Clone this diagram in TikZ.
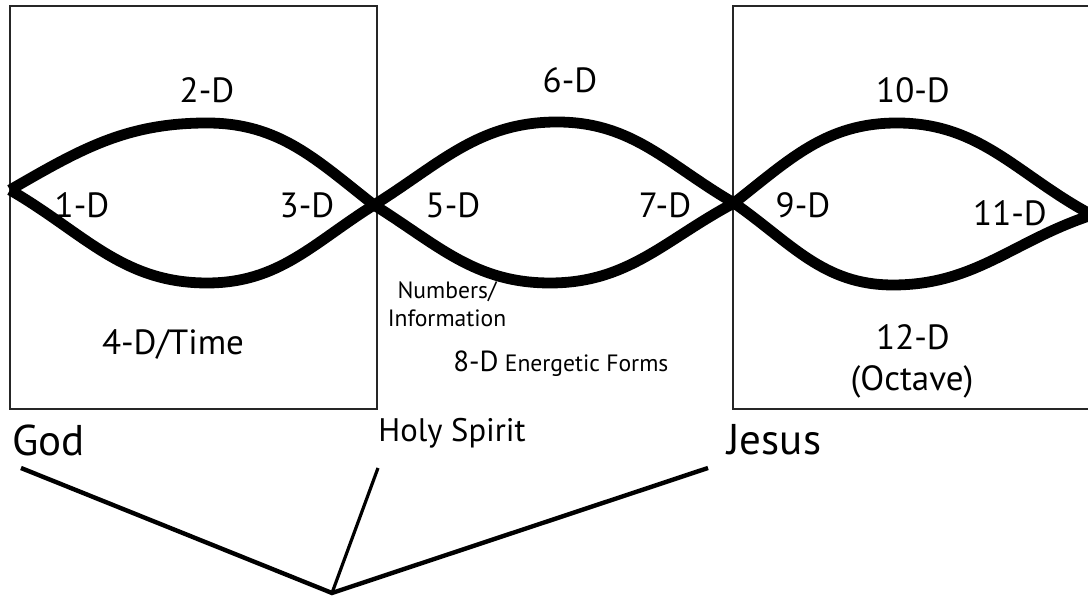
\documentclass[tikz,border=0pt]{standalone}
\usepackage{fontspec}
\setmainfont{PT Sans}
\usetikzlibrary{positioning}

\begin{document}
\begin{tikzpicture}[
    x=0.5pt,y=0.5pt,
    dimlabel/.style={font=\fontsize{17.5}{20}\selectfont,inner sep=0pt},
    notelabel/.style={font=\fontsize{11.8}{14}\selectfont,inner sep=0pt,align=center},
    namelabel/.style={font=\fontsize{21.5}{24}\selectfont,inner sep=0pt},
    spiritlabel/.style={font=\fontsize{16.3}{18}\selectfont,inner sep=0pt},
    frame/.style={draw=black!85,line width=1pt},
    strand/.style={line width=5.4pt,line join=round},
    branch/.style={line width=2.2pt},
    thinbranch/.style={line width=1.6pt}
  ]
    \useasboundingbox (0,0) rectangle (1088,598);

    \draw[frame] (10,592) rectangle (377,189);
    \draw[frame] (1095,592) -- (733,592) -- (733,189) -- (1095,189);

    \coordinate (n0) at (10,408);
    \coordinate (n1) at (374,393);
    \coordinate (n2) at (734,395);
    \coordinate (n3) at (1092,383);
    \coordinate (top1) at (207,475);
    \coordinate (bot1) at (207,315);
    \coordinate (top2) at (557,476);
    \coordinate (bot2) at (550,315);
    \coordinate (top3) at (897,475);
    \coordinate (bot3) at (893,313);

    \draw[strand] (n0) to[out=30,in=180] (top1) to[out=0,in=142] (n1)
      to[out=-32,in=180] (bot2) to[out=0,in=-152] (n2)
      to[out=38,in=180] (top3) to[out=0,in=152] (n3);
    \draw[strand] (n0) to[out=-30,in=180] (bot1) to[out=0,in=-148] (n1)
      to[out=32,in=180] (top2) to[out=0,in=150] (n2)
      to[out=-35,in=180] (bot3) to[out=0,in=-162] (n3);

    \node[dimlabel] (d1) at (82,393) {1-D};
    \node[dimlabel] (d2) at (207,508) {2-D};
    \node[dimlabel] (d3) at (307,393) {3-D};
    \node[dimlabel] (d4) at (173,253) {4-D/Time};
    \node[dimlabel] (d5) at (453,393) {5-D};
    \node[dimlabel] (d6) at (570,518) {6-D};
    \node[dimlabel] (d7) at (665,393) {7-D};
    \node[dimlabel] (d9) at (803,393) {9-D};
    \node[dimlabel] (d10) at (913,508) {10-D};
    \node[dimlabel] (d11) at (1010,385) {11-D};
    \node[dimlabel] (d12) at (913,261) {12-D};
    \node[dimlabel] (octave) at (912,216) {(Octave)};

    \node[notelabel] (numbers) at (447,294) {Numbers/\\Information};
    \node[notelabel,anchor=base west] (energetic) at (453,226)
      {{\fontsize{14.5}{16}\selectfont 8-D} Energetic Forms};

    \node[namelabel,anchor=west] (god) at (12,158) {God};
    \node[spiritlabel,anchor=west] (spirit) at (378,165) {Holy Spirit};
    \node[namelabel,anchor=west] (jesus) at (727,158) {Jesus};

    \coordinate (apex) at (332,5);
    \coordinate (godfoot) at (21,130);
    \coordinate (spiritfoot) at (378,130);
    \coordinate (jesusfoot) at (708,130);
    \draw[branch] (godfoot) -- (apex) -- (jesusfoot);
    \draw[thinbranch] (spiritfoot) -- (apex);
  \end{tikzpicture}
\end{document}
